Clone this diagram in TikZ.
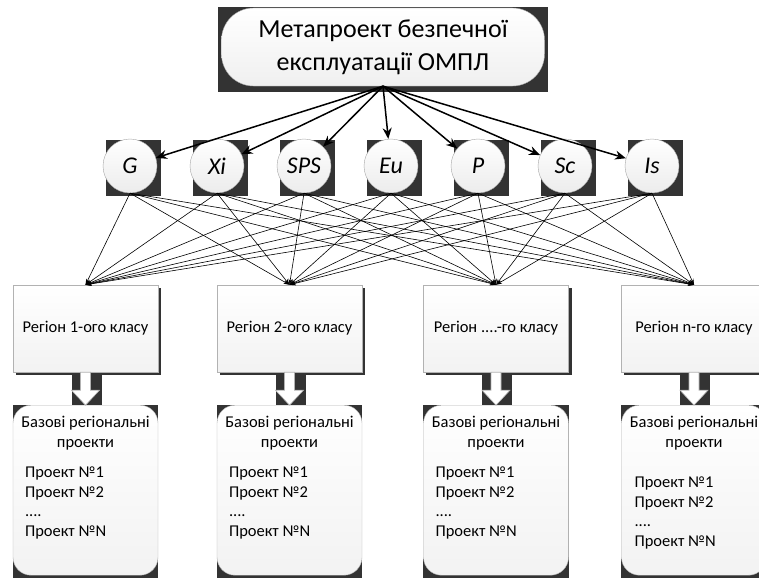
\documentclass[tikz,border=0pt]{standalone}
\usepackage{fontspec}
\setmainfont{Carlito}
\usetikzlibrary{arrows.meta,backgrounds}

\tikzset{
  darkbg/.style={fill=black!80, draw=none},
  meta/.style={draw=gray!70, rounded corners=32pt, top color=white, bottom color=gray!12,
    minimum width=323pt, minimum height=78pt, align=center,
    font=\fontsize{26}{33}\selectfont},
  factor/.style={circle, draw=gray!70, top color=white, bottom color=gray!15,
    minimum size=54pt, inner sep=0pt, font=\fontsize{24}{26}\selectfont\itshape},
  region/.style={draw=gray!60, top color=white, bottom color=gray!10,
    minimum width=145pt, minimum height=87pt, font=\fontsize{16.5}{19}\selectfont},
  projbox/.style={draw=gray!60, rounded corners=18pt, top color=white, bottom color=gray!10,
    minimum width=145pt, minimum height=170pt},
  projtext/.style={inner sep=0pt, align=left, font=\fontsize{16.5}{19.5}\selectfont},
  bigtip/.style={line width=1.5pt, -{Stealth[length=11pt, width=9pt]}},
  thintip/.style={line width=0.6pt, -{Stealth[length=6pt, width=4pt]}},
  blockarrow/.style={draw=gray!60, fill=white, line width=0.6pt}
}

\begin{document}
\begin{tikzpicture}[x=1pt, y=-1pt]

\path [use as bounding box] (0,0) rectangle (759,578);

% META
\node [meta] (meta) at (383,47) {Метапроект безпечної\\експлуатації ОМПЛ};

% FACTORS
\foreach \f/\x in {G/130, Xi/217, SPS/304, Eu/391, P/478, Sc/565, Is/652}
  \node [factor] (\f) at (\x,166) {\f};

% REGIONS
\node [region] (r1) at (85.5,328.5) {Регіон 1-ого класу};
\node [region] (r2) at (289.5,328.5) {Регіон 2-ого класу};
\node [region] (r3) at (496,328.5) {Регіон ....-го класу};
\node [region] (r4) at (694,328.5) {Регіон n-го класу};

% PROJECTS
\foreach \i in {1,...,4} {
  \path (r\i.south) ++(0,118) node [projbox] (p\i) {};
  \node [projtext, align=center, anchor=north] (t\i) at ([yshift=-11]p\i.north)
    {Базові регіональні\\проекти};
}
\foreach \i in {1,2,3}
  \node [projtext, anchor=north west] (l\i) at ([shift={(12,62)}]p\i.north west)
    {Проект №1\\Проект №2\\....\\Проект №N};
\node [projtext, anchor=north west] (l4) at ([shift={(13,72)}]p4.north west)
  {Проект №1\\Проект №2\\....\\Проект №N};

% BLOCK ARROWS
\foreach \i in {1,...,4}
  \draw [blockarrow] (r\i.south) +(-5,0) -- +(-5,18) -- +(-14,18) -- +(0,33)
    -- +(14,18) -- +(5,18) -- +(5,0) -- cycle;

% LINKS
\foreach \f in {G, Xi, SPS, Eu, P, Sc, Is} {
  \draw [bigtip] (meta.south) -- (\f);
  \foreach \i in {1,...,4}
    \draw [thintip] (\f.south) -- (r\i.north);
}

% DARK BACKDROPS
\begin{scope}[on background layer]
  \fill [darkbg] ([shift={(-3,-1)}]meta.north west) rectangle ([shift={(3,6)}]meta.south east);
  \foreach \f in {G, Xi, SPS, Eu, P, Sc, Is}
    \fill [darkbg] ([shift={(-24,-26)}]\f.center) rectangle ([shift={(31,30)}]\f.center);
  \foreach \i in {1,...,4} {
    \fill [darkbg] ([shift={(3,3)}]r\i.north west) rectangle ([shift={(3,3)}]r\i.south east);
    \fill [darkbg] ([shift={(-14,0)}]r\i.south) rectangle ([shift={(16,33)}]r\i.south);
    \fill [darkbg] (p\i.north west) rectangle ([shift={(0,3)}]p\i.south east);
  }
\end{scope}

\end{tikzpicture}
\end{document}
